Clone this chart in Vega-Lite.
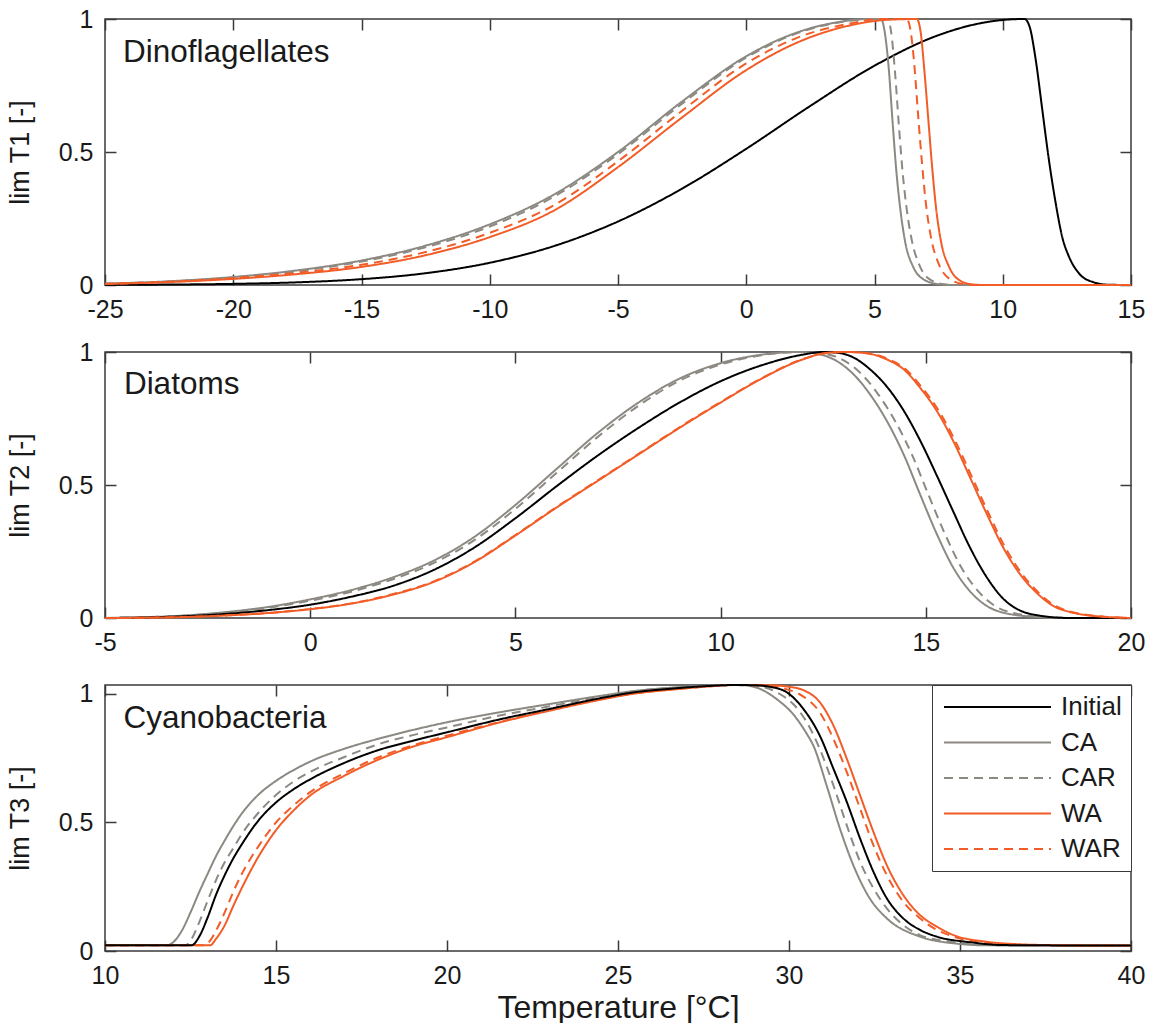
{
"$schema": "https://vega.github.io/schema/vega-lite/v6.json",
"padding": {"left": 5, "top": 6, "right": 5, "bottom": 0},
"background": "white",
"config": {
  "font": "Liberation Sans",
  "view": {"stroke": "#3a3a3a", "strokeWidth": 1.5},
  "axis": {"domain": false, "grid": false, "ticks": true, "tickSize": -11, "tickColor": "#3a3a3a", "tickWidth": 1.5, "labelFontSize": 25, "labelColor": "#1a1a1a", "labelPadding": 23, "labelFlush": false, "labelOverlap": false, "labelExpr": "toString(datum.value)", "titleFontSize": 27, "titleFontWeight": "normal", "titleColor": "#1a1a1a", "titlePadding": 24},
  "legend": {"labelFontSize": 26, "labelColor": "#1a1a1a", "strokeColor": "#3a3a3a", "fillColor": "white", "padding": 9, "rowPadding": 9.5, "symbolStrokeWidth": 2, "cornerRadius": 0}
},
"datasets": {
"p1": [
{"T":-25,"v":0.0006,"s":"Initial"},{"T":-22.5,"v":0.0017,"s":"Initial"},{"T":-20,"v":0.0043,"s":"Initial"},{"T":-17.5,"v":0.0101,"s":"Initial"},{"T":-15,"v":0.0219,"s":"Initial"},{"T":-12.5,"v":0.0443,"s":"Initial"},{"T":-10,"v":0.0835,"s":"Initial"},{"T":-7.5,"v":0.1463,"s":"Initial"},{"T":-5,"v":0.2387,"s":"Initial"},{"T":-2.5,"v":0.3623,"s":"Initial"},{"T":0,"v":0.512,"s":"Initial"},{"T":2.5,"v":0.6734,"s":"Initial"},{"T":5,"v":0.8244,"s":"Initial"},{"T":7.5,"v":0.9394,"s":"Initial"},{"T":9,"v":0.9816,"s":"Initial"},{"T":10,"v":0.9963,"s":"Initial"},{"T":10.85,"v":1.0,"s":"Initial"},{"T":11.05,"v":0.97,"s":"Initial"},{"T":11.28,"v":0.85,"s":"Initial"},{"T":11.54,"v":0.66,"s":"Initial"},{"T":11.8,"v":0.47,"s":"Initial"},{"T":12.06,"v":0.31,"s":"Initial"},{"T":12.32,"v":0.18,"s":"Initial"},{"T":12.58,"v":0.107,"s":"Initial"},{"T":12.97,"v":0.044,"s":"Initial"},{"T":13.49,"v":0.012,"s":"Initial"},{"T":14.14,"v":0.001,"s":"Initial"},{"T":15,"v":0,"s":"Initial"},
{"T":-25,"v":0.005,"s":"CA"},{"T":-22.5,"v":0.014,"s":"CA"},{"T":-20,"v":0.03,"s":"CA"},{"T":-17.5,"v":0.055,"s":"CA"},{"T":-15,"v":0.092,"s":"CA"},{"T":-12.5,"v":0.148,"s":"CA"},{"T":-10,"v":0.228,"s":"CA"},{"T":-7.5,"v":0.34,"s":"CA"},{"T":-5,"v":0.5,"s":"CA"},{"T":-2.5,"v":0.69,"s":"CA"},{"T":0,"v":0.86,"s":"CA"},{"T":2,"v":0.95,"s":"CA"},{"T":3.5,"v":0.987,"s":"CA"},{"T":4.8,"v":1.0,"s":"CA"},{"T":5.25,"v":1.0,"s":"CA"},{"T":5.4,"v":0.95,"s":"CA"},{"T":5.55,"v":0.82,"s":"CA"},{"T":5.7,"v":0.62,"s":"CA"},{"T":5.85,"v":0.43,"s":"CA"},{"T":6.0,"v":0.29,"s":"CA"},{"T":6.2,"v":0.16,"s":"CA"},{"T":6.5,"v":0.07,"s":"CA"},{"T":6.9,"v":0.022,"s":"CA"},{"T":7.5,"v":0.003,"s":"CA"},{"T":8,"v":0,"s":"CA"},{"T":15,"v":0,"s":"CA"},
{"T":-25,"v":0.005,"s":"CAR"},{"T":-22.5,"v":0.013,"s":"CAR"},{"T":-20,"v":0.028,"s":"CAR"},{"T":-17.5,"v":0.052,"s":"CAR"},{"T":-15,"v":0.088,"s":"CAR"},{"T":-12.5,"v":0.142,"s":"CAR"},{"T":-10,"v":0.22,"s":"CAR"},{"T":-7.5,"v":0.332,"s":"CAR"},{"T":-5,"v":0.492,"s":"CAR"},{"T":-2.5,"v":0.682,"s":"CAR"},{"T":0,"v":0.855,"s":"CAR"},{"T":2,"v":0.947,"s":"CAR"},{"T":3.5,"v":0.985,"s":"CAR"},{"T":5,"v":1.0,"s":"CAR"},{"T":5.5,"v":1.0,"s":"CAR"},{"T":5.65,"v":0.95,"s":"CAR"},{"T":5.8,"v":0.8,"s":"CAR"},{"T":5.95,"v":0.6,"s":"CAR"},{"T":6.1,"v":0.42,"s":"CAR"},{"T":6.25,"v":0.29,"s":"CAR"},{"T":6.45,"v":0.17,"s":"CAR"},{"T":6.75,"v":0.075,"s":"CAR"},{"T":7.1,"v":0.025,"s":"CAR"},{"T":7.7,"v":0.003,"s":"CAR"},{"T":8.2,"v":0,"s":"CAR"},{"T":15,"v":0,"s":"CAR"},
{"T":-25,"v":0.004,"s":"WAR"},{"T":-22.5,"v":0.012,"s":"WAR"},{"T":-20,"v":0.026,"s":"WAR"},{"T":-17.5,"v":0.046,"s":"WAR"},{"T":-15,"v":0.076,"s":"WAR"},{"T":-12.5,"v":0.124,"s":"WAR"},{"T":-10,"v":0.196,"s":"WAR"},{"T":-7.5,"v":0.3,"s":"WAR"},{"T":-5,"v":0.465,"s":"WAR"},{"T":-2.5,"v":0.655,"s":"WAR"},{"T":0,"v":0.833,"s":"WAR"},{"T":2,"v":0.93,"s":"WAR"},{"T":4,"v":0.982,"s":"WAR"},{"T":5.3,"v":1.0,"s":"WAR"},{"T":6.25,"v":1.0,"s":"WAR"},{"T":6.4,"v":0.96,"s":"WAR"},{"T":6.55,"v":0.83,"s":"WAR"},{"T":6.7,"v":0.64,"s":"WAR"},{"T":6.85,"v":0.46,"s":"WAR"},{"T":7.0,"v":0.31,"s":"WAR"},{"T":7.2,"v":0.18,"s":"WAR"},{"T":7.5,"v":0.08,"s":"WAR"},{"T":7.9,"v":0.025,"s":"WAR"},{"T":8.5,"v":0.003,"s":"WAR"},{"T":9,"v":0,"s":"WAR"},{"T":15,"v":0,"s":"WAR"},
{"T":-25,"v":0.004,"s":"WA"},{"T":-22.5,"v":0.011,"s":"WA"},{"T":-20,"v":0.023,"s":"WA"},{"T":-17.5,"v":0.041,"s":"WA"},{"T":-15,"v":0.068,"s":"WA"},{"T":-12.5,"v":0.112,"s":"WA"},{"T":-10,"v":0.18,"s":"WA"},{"T":-7.5,"v":0.28,"s":"WA"},{"T":-5,"v":0.443,"s":"WA"},{"T":-2.5,"v":0.63,"s":"WA"},{"T":0,"v":0.808,"s":"WA"},{"T":2,"v":0.912,"s":"WA"},{"T":4,"v":0.975,"s":"WA"},{"T":5.5,"v":0.997,"s":"WA"},{"T":6.65,"v":1.0,"s":"WA"},{"T":6.8,"v":0.95,"s":"WA"},{"T":6.95,"v":0.8,"s":"WA"},{"T":7.1,"v":0.62,"s":"WA"},{"T":7.25,"v":0.44,"s":"WA"},{"T":7.4,"v":0.29,"s":"WA"},{"T":7.6,"v":0.16,"s":"WA"},{"T":7.9,"v":0.07,"s":"WA"},{"T":8.25,"v":0.022,"s":"WA"},{"T":8.75,"v":0.003,"s":"WA"},{"T":9.3,"v":0,"s":"WA"},{"T":15,"v":0,"s":"WA"}
],
"p2": [
{"T":-5,"v":0,"s":"CA"},{"T":-4,"v":0.003,"s":"CA"},{"T":-3,"v":0.01,"s":"CA"},{"T":-2,"v":0.023,"s":"CA"},{"T":-1,"v":0.042,"s":"CA"},{"T":0,"v":0.07,"s":"CA"},{"T":1,"v":0.105,"s":"CA"},{"T":2,"v":0.152,"s":"CA"},{"T":3,"v":0.215,"s":"CA"},{"T":4,"v":0.305,"s":"CA"},{"T":5,"v":0.425,"s":"CA"},{"T":6,"v":0.56,"s":"CA"},{"T":7,"v":0.695,"s":"CA"},{"T":8,"v":0.81,"s":"CA"},{"T":9,"v":0.9,"s":"CA"},{"T":10,"v":0.958,"s":"CA"},{"T":11,"v":0.99,"s":"CA"},{"T":11.9,"v":1.0,"s":"CA"},{"T":12.42,"v":0.991,"s":"CA"},{"T":12.83,"v":0.966,"s":"CA"},{"T":13.24,"v":0.916,"s":"CA"},{"T":13.64,"v":0.841,"s":"CA"},{"T":14.05,"v":0.741,"s":"CA"},{"T":14.46,"v":0.615,"s":"CA"},{"T":14.86,"v":0.465,"s":"CA"},{"T":15.27,"v":0.315,"s":"CA"},{"T":15.67,"v":0.189,"s":"CA"},{"T":16.08,"v":0.1,"s":"CA"},{"T":16.49,"v":0.045,"s":"CA"},{"T":16.89,"v":0.02,"s":"CA"},{"T":17.7,"v":0.004,"s":"CA"},{"T":18.5,"v":0,"s":"CA"},{"T":20,"v":0,"s":"CA"},
{"T":-5,"v":0,"s":"CAR"},{"T":-4,"v":0.003,"s":"CAR"},{"T":-3,"v":0.009,"s":"CAR"},{"T":-2,"v":0.021,"s":"CAR"},{"T":-1,"v":0.039,"s":"CAR"},{"T":0,"v":0.065,"s":"CAR"},{"T":1,"v":0.099,"s":"CAR"},{"T":2,"v":0.145,"s":"CAR"},{"T":3,"v":0.206,"s":"CAR"},{"T":4,"v":0.293,"s":"CAR"},{"T":5,"v":0.41,"s":"CAR"},{"T":6,"v":0.545,"s":"CAR"},{"T":7,"v":0.68,"s":"CAR"},{"T":8,"v":0.798,"s":"CAR"},{"T":9,"v":0.892,"s":"CAR"},{"T":10,"v":0.953,"s":"CAR"},{"T":11,"v":0.988,"s":"CAR"},{"T":12.0,"v":1.0,"s":"CAR"},{"T":12.62,"v":0.991,"s":"CAR"},{"T":13.03,"v":0.966,"s":"CAR"},{"T":13.44,"v":0.916,"s":"CAR"},{"T":13.84,"v":0.841,"s":"CAR"},{"T":14.25,"v":0.741,"s":"CAR"},{"T":14.66,"v":0.615,"s":"CAR"},{"T":15.06,"v":0.465,"s":"CAR"},{"T":15.47,"v":0.315,"s":"CAR"},{"T":15.87,"v":0.189,"s":"CAR"},{"T":16.28,"v":0.1,"s":"CAR"},{"T":16.69,"v":0.045,"s":"CAR"},{"T":17.09,"v":0.02,"s":"CAR"},{"T":17.9,"v":0.004,"s":"CAR"},{"T":18.7,"v":0,"s":"CAR"},{"T":20,"v":0,"s":"CAR"},
{"T":-5,"v":0,"s":"Initial"},{"T":-4,"v":0.002,"s":"Initial"},{"T":-3,"v":0.007,"s":"Initial"},{"T":-2,"v":0.016,"s":"Initial"},{"T":-1,"v":0.03,"s":"Initial"},{"T":0,"v":0.05,"s":"Initial"},{"T":1,"v":0.08,"s":"Initial"},{"T":2,"v":0.12,"s":"Initial"},{"T":3,"v":0.18,"s":"Initial"},{"T":4,"v":0.265,"s":"Initial"},{"T":5,"v":0.375,"s":"Initial"},{"T":6,"v":0.495,"s":"Initial"},{"T":7,"v":0.61,"s":"Initial"},{"T":8,"v":0.715,"s":"Initial"},{"T":9,"v":0.81,"s":"Initial"},{"T":10,"v":0.89,"s":"Initial"},{"T":11,"v":0.95,"s":"Initial"},{"T":12,"v":0.99,"s":"Initial"},{"T":12.5,"v":1.0,"s":"Initial"},{"T":12.9,"v":0.996,"s":"Initial"},{"T":13.24,"v":0.979,"s":"Initial"},{"T":13.64,"v":0.935,"s":"Initial"},{"T":14.05,"v":0.87,"s":"Initial"},{"T":14.46,"v":0.78,"s":"Initial"},{"T":14.86,"v":0.668,"s":"Initial"},{"T":15.27,"v":0.535,"s":"Initial"},{"T":15.67,"v":0.4,"s":"Initial"},{"T":16.08,"v":0.264,"s":"Initial"},{"T":16.49,"v":0.152,"s":"Initial"},{"T":16.89,"v":0.072,"s":"Initial"},{"T":17.3,"v":0.028,"s":"Initial"},{"T":17.7,"v":0.011,"s":"Initial"},{"T":18.5,"v":0,"s":"Initial"},{"T":20,"v":0,"s":"Initial"},
{"T":-5,"v":0,"s":"WA"},{"T":-4,"v":0.001,"s":"WA"},{"T":-3,"v":0.004,"s":"WA"},{"T":-2,"v":0.01,"s":"WA"},{"T":-1,"v":0.019,"s":"WA"},{"T":0,"v":0.033,"s":"WA"},{"T":1,"v":0.054,"s":"WA"},{"T":2,"v":0.087,"s":"WA"},{"T":3,"v":0.135,"s":"WA"},{"T":4,"v":0.21,"s":"WA"},{"T":5,"v":0.31,"s":"WA"},{"T":6,"v":0.415,"s":"WA"},{"T":7,"v":0.515,"s":"WA"},{"T":8,"v":0.615,"s":"WA"},{"T":9,"v":0.715,"s":"WA"},{"T":10,"v":0.81,"s":"WA"},{"T":11,"v":0.9,"s":"WA"},{"T":12,"v":0.972,"s":"WA"},{"T":12.6,"v":0.997,"s":"WA"},{"T":13.1,"v":1.0,"s":"WA"},{"T":13.64,"v":0.993,"s":"WA"},{"T":14.05,"v":0.972,"s":"WA"},{"T":14.46,"v":0.935,"s":"WA"},{"T":14.86,"v":0.866,"s":"WA"},{"T":15.27,"v":0.778,"s":"WA"},{"T":15.67,"v":0.665,"s":"WA"},{"T":16.08,"v":0.528,"s":"WA"},{"T":16.49,"v":0.39,"s":"WA"},{"T":16.89,"v":0.264,"s":"WA"},{"T":17.3,"v":0.164,"s":"WA"},{"T":17.7,"v":0.095,"s":"WA"},{"T":18.11,"v":0.045,"s":"WA"},{"T":18.5,"v":0.023,"s":"WA"},{"T":18.9,"v":0.011,"s":"WA"},{"T":19.3,"v":0.005,"s":"WA"},{"T":20,"v":0,"s":"WA"},
{"T":-5,"v":0,"s":"WAR"},{"T":-4,"v":0.001,"s":"WAR"},{"T":-3,"v":0.004,"s":"WAR"},{"T":-2,"v":0.01,"s":"WAR"},{"T":-1,"v":0.019,"s":"WAR"},{"T":0,"v":0.034,"s":"WAR"},{"T":1,"v":0.055,"s":"WAR"},{"T":2,"v":0.089,"s":"WAR"},{"T":3,"v":0.137,"s":"WAR"},{"T":4,"v":0.212,"s":"WAR"},{"T":5,"v":0.312,"s":"WAR"},{"T":6,"v":0.417,"s":"WAR"},{"T":7,"v":0.517,"s":"WAR"},{"T":8,"v":0.617,"s":"WAR"},{"T":9,"v":0.717,"s":"WAR"},{"T":10,"v":0.812,"s":"WAR"},{"T":11,"v":0.901,"s":"WAR"},{"T":12,"v":0.973,"s":"WAR"},{"T":12.65,"v":0.997,"s":"WAR"},{"T":13.15,"v":1.0,"s":"WAR"},{"T":13.69,"v":0.993,"s":"WAR"},{"T":14.1,"v":0.972,"s":"WAR"},{"T":14.51,"v":0.935,"s":"WAR"},{"T":14.91,"v":0.866,"s":"WAR"},{"T":15.32,"v":0.778,"s":"WAR"},{"T":15.72,"v":0.665,"s":"WAR"},{"T":16.13,"v":0.528,"s":"WAR"},{"T":16.54,"v":0.39,"s":"WAR"},{"T":16.94,"v":0.264,"s":"WAR"},{"T":17.35,"v":0.164,"s":"WAR"},{"T":17.75,"v":0.095,"s":"WAR"},{"T":18.16,"v":0.045,"s":"WAR"},{"T":18.55,"v":0.023,"s":"WAR"},{"T":18.95,"v":0.011,"s":"WAR"},{"T":19.35,"v":0.005,"s":"WAR"},{"T":20,"v":0,"s":"WAR"}
],
"p3": [
{"T":10,"v":0.022,"s":"CA"},{"T":11.8,"v":0.022,"s":"CA"},{"T":12.0,"v":0.035,"s":"CA"},{"T":12.25,"v":0.08,"s":"CA"},{"T":12.5,"v":0.15,"s":"CA"},{"T":12.75,"v":0.228,"s":"CA"},{"T":13.0,"v":0.3,"s":"CA"},{"T":13.25,"v":0.37,"s":"CA"},{"T":13.5,"v":0.43,"s":"CA"},{"T":14.0,"v":0.535,"s":"CA"},{"T":14.5,"v":0.61,"s":"CA"},{"T":15.0,"v":0.662,"s":"CA"},{"T":15.5,"v":0.703,"s":"CA"},{"T":16.0,"v":0.737,"s":"CA"},{"T":17.0,"v":0.787,"s":"CA"},{"T":18.0,"v":0.826,"s":"CA"},{"T":19.0,"v":0.86,"s":"CA"},{"T":20.0,"v":0.89,"s":"CA"},{"T":21.5,"v":0.928,"s":"CA"},{"T":23.0,"v":0.961,"s":"CA"},{"T":24.5,"v":0.993,"s":"CA"},{"T":25.5,"v":1.012,"s":"CA"},{"T":26.5,"v":1.024,"s":"CA"},{"T":27.5,"v":1.031,"s":"CA"},{"T":28.4,"v":1.035,"s":"CA"},{"T":28.76,"v":1.033,"s":"CA"},{"T":29.15,"v":1.02,"s":"CA"},{"T":29.64,"v":0.98,"s":"CA"},{"T":30.13,"v":0.92,"s":"CA"},{"T":30.52,"v":0.845,"s":"CA"},{"T":30.71,"v":0.8,"s":"CA"},{"T":31.1,"v":0.644,"s":"CA"},{"T":31.49,"v":0.476,"s":"CA"},{"T":31.88,"v":0.334,"s":"CA"},{"T":32.36,"v":0.205,"s":"CA"},{"T":32.86,"v":0.127,"s":"CA"},{"T":33.83,"v":0.056,"s":"CA"},{"T":34.81,"v":0.03,"s":"CA"},{"T":35.8,"v":0.022,"s":"CA"},{"T":40,"v":0.021,"s":"CA"},
{"T":10,"v":0.022,"s":"CAR"},{"T":12.34,"v":0.022,"s":"CAR"},{"T":12.5,"v":0.04,"s":"CAR"},{"T":12.75,"v":0.11,"s":"CAR"},{"T":13.0,"v":0.195,"s":"CAR"},{"T":13.25,"v":0.277,"s":"CAR"},{"T":13.5,"v":0.345,"s":"CAR"},{"T":13.75,"v":0.4,"s":"CAR"},{"T":14.0,"v":0.455,"s":"CAR"},{"T":14.5,"v":0.54,"s":"CAR"},{"T":15.0,"v":0.607,"s":"CAR"},{"T":15.5,"v":0.658,"s":"CAR"},{"T":16.0,"v":0.697,"s":"CAR"},{"T":17.0,"v":0.755,"s":"CAR"},{"T":18.0,"v":0.805,"s":"CAR"},{"T":19.0,"v":0.84,"s":"CAR"},{"T":20.0,"v":0.87,"s":"CAR"},{"T":21.5,"v":0.915,"s":"CAR"},{"T":23.0,"v":0.952,"s":"CAR"},{"T":24.5,"v":0.99,"s":"CAR"},{"T":25.5,"v":1.011,"s":"CAR"},{"T":26.5,"v":1.023,"s":"CAR"},{"T":27.5,"v":1.03,"s":"CAR"},{"T":28.4,"v":1.035,"s":"CAR"},{"T":28.9,"v":1.033,"s":"CAR"},{"T":29.3,"v":1.025,"s":"CAR"},{"T":29.73,"v":1.0,"s":"CAR"},{"T":30.13,"v":0.96,"s":"CAR"},{"T":30.52,"v":0.89,"s":"CAR"},{"T":30.9,"v":0.786,"s":"CAR"},{"T":31.3,"v":0.644,"s":"CAR"},{"T":31.69,"v":0.489,"s":"CAR"},{"T":32.08,"v":0.347,"s":"CAR"},{"T":32.47,"v":0.244,"s":"CAR"},{"T":32.86,"v":0.166,"s":"CAR"},{"T":33.34,"v":0.101,"s":"CAR"},{"T":33.83,"v":0.062,"s":"CAR"},{"T":34.81,"v":0.034,"s":"CAR"},{"T":35.8,"v":0.024,"s":"CAR"},{"T":40,"v":0.021,"s":"CAR"},
{"T":10,"v":0.022,"s":"WAR"},{"T":12.92,"v":0.022,"s":"WAR"},{"T":13.1,"v":0.045,"s":"WAR"},{"T":13.25,"v":0.08,"s":"WAR"},{"T":13.5,"v":0.15,"s":"WAR"},{"T":13.75,"v":0.23,"s":"WAR"},{"T":14.0,"v":0.3,"s":"WAR"},{"T":14.5,"v":0.41,"s":"WAR"},{"T":15.0,"v":0.5,"s":"WAR"},{"T":15.5,"v":0.565,"s":"WAR"},{"T":16.0,"v":0.618,"s":"WAR"},{"T":17.0,"v":0.692,"s":"WAR"},{"T":18.0,"v":0.754,"s":"WAR"},{"T":19.0,"v":0.8,"s":"WAR"},{"T":20.0,"v":0.838,"s":"WAR"},{"T":21.5,"v":0.89,"s":"WAR"},{"T":23.0,"v":0.94,"s":"WAR"},{"T":24.5,"v":0.98,"s":"WAR"},{"T":25.5,"v":1.003,"s":"WAR"},{"T":26.5,"v":1.017,"s":"WAR"},{"T":27.5,"v":1.028,"s":"WAR"},{"T":28.4,"v":1.035,"s":"WAR"},{"T":29.3,"v":1.033,"s":"WAR"},{"T":29.9,"v":1.02,"s":"WAR"},{"T":30.42,"v":0.99,"s":"WAR"},{"T":30.9,"v":0.929,"s":"WAR"},{"T":31.3,"v":0.825,"s":"WAR"},{"T":31.69,"v":0.696,"s":"WAR"},{"T":32.08,"v":0.554,"s":"WAR"},{"T":32.47,"v":0.411,"s":"WAR"},{"T":32.86,"v":0.295,"s":"WAR"},{"T":33.34,"v":0.192,"s":"WAR"},{"T":33.83,"v":0.127,"s":"WAR"},{"T":34.32,"v":0.082,"s":"WAR"},{"T":34.81,"v":0.056,"s":"WAR"},{"T":35.78,"v":0.03,"s":"WAR"},{"T":36.76,"v":0.023,"s":"WAR"},{"T":40,"v":0.021,"s":"WAR"},
{"T":10,"v":0.022,"s":"WA"},{"T":13.07,"v":0.022,"s":"WA"},{"T":13.25,"v":0.048,"s":"WA"},{"T":13.5,"v":0.1,"s":"WA"},{"T":13.75,"v":0.175,"s":"WA"},{"T":14.0,"v":0.245,"s":"WA"},{"T":14.5,"v":0.37,"s":"WA"},{"T":15.0,"v":0.47,"s":"WA"},{"T":15.5,"v":0.545,"s":"WA"},{"T":16.0,"v":0.605,"s":"WA"},{"T":17.0,"v":0.682,"s":"WA"},{"T":18.0,"v":0.745,"s":"WA"},{"T":19.0,"v":0.795,"s":"WA"},{"T":20.0,"v":0.832,"s":"WA"},{"T":21.5,"v":0.888,"s":"WA"},{"T":23.0,"v":0.935,"s":"WA"},{"T":24.5,"v":0.978,"s":"WA"},{"T":25.5,"v":1.002,"s":"WA"},{"T":26.5,"v":1.016,"s":"WA"},{"T":27.5,"v":1.028,"s":"WA"},{"T":28.4,"v":1.035,"s":"WA"},{"T":29.5,"v":1.034,"s":"WA"},{"T":30.0,"v":1.028,"s":"WA"},{"T":30.42,"v":1.015,"s":"WA"},{"T":30.9,"v":0.968,"s":"WA"},{"T":31.3,"v":0.877,"s":"WA"},{"T":31.69,"v":0.748,"s":"WA"},{"T":32.08,"v":0.605,"s":"WA"},{"T":32.47,"v":0.463,"s":"WA"},{"T":32.86,"v":0.334,"s":"WA"},{"T":33.34,"v":0.218,"s":"WA"},{"T":33.83,"v":0.14,"s":"WA"},{"T":34.32,"v":0.095,"s":"WA"},{"T":34.81,"v":0.062,"s":"WA"},{"T":35.78,"v":0.036,"s":"WA"},{"T":36.76,"v":0.026,"s":"WA"},{"T":37.7,"v":0.023,"s":"WA"},{"T":40,"v":0.021,"s":"WA"},
{"T":10,"v":0.022,"s":"Initial"},{"T":12.53,"v":0.022,"s":"Initial"},{"T":12.75,"v":0.055,"s":"Initial"},{"T":13.0,"v":0.13,"s":"Initial"},{"T":13.25,"v":0.22,"s":"Initial"},{"T":13.5,"v":0.295,"s":"Initial"},{"T":13.75,"v":0.36,"s":"Initial"},{"T":14.0,"v":0.415,"s":"Initial"},{"T":14.5,"v":0.51,"s":"Initial"},{"T":15.0,"v":0.578,"s":"Initial"},{"T":15.5,"v":0.628,"s":"Initial"},{"T":16.0,"v":0.668,"s":"Initial"},{"T":17.0,"v":0.732,"s":"Initial"},{"T":18.0,"v":0.782,"s":"Initial"},{"T":19.0,"v":0.818,"s":"Initial"},{"T":20.0,"v":0.851,"s":"Initial"},{"T":21.5,"v":0.9,"s":"Initial"},{"T":23.0,"v":0.942,"s":"Initial"},{"T":24.5,"v":0.984,"s":"Initial"},{"T":25.5,"v":1.007,"s":"Initial"},{"T":26.5,"v":1.02,"s":"Initial"},{"T":27.5,"v":1.03,"s":"Initial"},{"T":28.4,"v":1.035,"s":"Initial"},{"T":29.0,"v":1.034,"s":"Initial"},{"T":29.44,"v":1.028,"s":"Initial"},{"T":29.93,"v":1.007,"s":"Initial"},{"T":30.42,"v":0.942,"s":"Initial"},{"T":30.9,"v":0.838,"s":"Initial"},{"T":31.3,"v":0.709,"s":"Initial"},{"T":31.69,"v":0.58,"s":"Initial"},{"T":32.08,"v":0.437,"s":"Initial"},{"T":32.47,"v":0.308,"s":"Initial"},{"T":32.86,"v":0.205,"s":"Initial"},{"T":33.34,"v":0.127,"s":"Initial"},{"T":33.83,"v":0.082,"s":"Initial"},{"T":34.32,"v":0.056,"s":"Initial"},{"T":35.3,"v":0.034,"s":"Initial"},{"T":36.27,"v":0.023,"s":"Initial"},{"T":40,"v":0.021,"s":"Initial"}
]
},
"concat": [
{
  "width": 1026, "height": 266,
  "layer": [
    {"data": {"name": "p1"},
     "mark": {"type": "line", "strokeWidth": 2, "interpolate": "monotone"},
     "encoding": {
       "x": {"field": "T", "type": "quantitative", "scale": {"domain": [-25, 15], "nice": false, "zero": false}, "axis": {"orient": "bottom", "values": [-25,-20,-15,-10,-5,0,5,10,15], "title": null}},
       "y": {"field": "v", "type": "quantitative", "scale": {"domain": [0, 1], "nice": false}, "axis": {"orient": "left", "values": [0,0.5,1], "title": "lim T1 [-]"}},
       "color": {"field": "s", "type": "nominal", "scale": {"domain": ["Initial","CA","CAR","WA","WAR"], "range": ["#000000","#8c8982","#8c8982","#f25c26","#f25c26"]}, "legend": null},
       "strokeDash": {"field": "s", "type": "nominal", "scale": {"domain": ["Initial","CA","CAR","WA","WAR"], "range": [[1,0],[1,0],[9,6],[1,0],[9,6]]}, "legend": null}
     }},
    {"data": {"name": "p1"},
     "mark": {"type": "line", "opacity": 0},
     "encoding": {
       "x": {"field": "T", "type": "quantitative", "axis": {"orient": "top", "labels": false, "title": null, "values": [-25,-20,-15,-10,-5,0,5,10,15]}},
       "y": {"field": "v", "type": "quantitative", "axis": {"orient": "right", "labels": false, "title": null, "values": [0,0.5,1]}}
     }},
    {"data": {"values": [{"label": "Dinoflagellates"}]},
     "mark": {"type": "text", "align": "left", "baseline": "alphabetic", "fontSize": 31.5, "color": "#1a1a1a"},
     "encoding": {
       "x": {"datum": -24.3, "type": "quantitative", "axis": null},
       "y": {"datum": 0.838, "type": "quantitative", "axis": null},
       "text": {"field": "label"}
     }}
  ],
  "resolve": {"axis": {"x": "independent", "y": "independent"}}
},
{
  "width": 1026, "height": 266,
  "layer": [
    {"data": {"name": "p2"},
     "mark": {"type": "line", "strokeWidth": 2, "interpolate": "monotone"},
     "encoding": {
       "x": {"field": "T", "type": "quantitative", "scale": {"domain": [-5, 20], "nice": false, "zero": false}, "axis": {"orient": "bottom", "values": [-5,0,5,10,15,20], "title": null}},
       "y": {"field": "v", "type": "quantitative", "scale": {"domain": [0, 1], "nice": false}, "axis": {"orient": "left", "values": [0,0.5,1], "title": "lim T2 [-]"}},
       "color": {"field": "s", "type": "nominal", "scale": {"domain": ["Initial","CA","CAR","WA","WAR"], "range": ["#000000","#8c8982","#8c8982","#f25c26","#f25c26"]}, "legend": null},
       "strokeDash": {"field": "s", "type": "nominal", "scale": {"domain": ["Initial","CA","CAR","WA","WAR"], "range": [[1,0],[1,0],[9,6],[1,0],[9,6]]}, "legend": null}
     }},
    {"data": {"name": "p2"},
     "mark": {"type": "line", "opacity": 0},
     "encoding": {
       "x": {"field": "T", "type": "quantitative", "axis": {"orient": "top", "labels": false, "title": null, "values": [-5,0,5,10,15,20]}},
       "y": {"field": "v", "type": "quantitative", "axis": {"orient": "right", "labels": false, "title": null, "values": [0,0.5,1]}}
     }},
    {"data": {"values": [{"label": "Diatoms"}]},
     "mark": {"type": "text", "align": "left", "baseline": "alphabetic", "fontSize": 31.5, "color": "#1a1a1a"},
     "encoding": {
       "x": {"datum": -4.54, "type": "quantitative", "axis": null},
       "y": {"datum": 0.841, "type": "quantitative", "axis": null},
       "text": {"field": "label"}
     }}
  ],
  "resolve": {"axis": {"x": "independent", "y": "independent"}}
},
{
  "width": 1026, "height": 266,
  "layer": [
    {"data": {"name": "p3"},
     "mark": {"type": "line", "strokeWidth": 2, "interpolate": "monotone"},
     "encoding": {
       "x": {"field": "T", "type": "quantitative", "scale": {"domain": [10, 40], "nice": false, "zero": false}, "axis": {"orient": "bottom", "values": [10,15,20,25,30,35,40], "title": "Temperature [°C]", "titleFontSize": 32, "titlePadding": 4}},
       "y": {"field": "v", "type": "quantitative", "scale": {"domain": [0, 1.035], "nice": false}, "axis": {"orient": "left", "values": [0,0.5,1], "title": "lim T3 [-]"}},
       "color": {"field": "s", "type": "nominal", "scale": {"domain": ["Initial","CA","CAR","WA","WAR"], "range": ["#000000","#8c8982","#8c8982","#f25c26","#f25c26"]}, "legend": {"orient": "top-right", "offset": 0, "title": null, "symbolType": "M-1,0H9.7", "symbolSize": 400, "labelOffset": 94}},
       "strokeDash": {"field": "s", "type": "nominal", "scale": {"domain": ["Initial","CA","CAR","WA","WAR"], "range": [[1,0],[1,0],[9,6],[1,0],[9,6]]}, "legend": {"orient": "top-right", "offset": 0, "title": null, "symbolType": "M-1,0H9.7", "symbolSize": 400, "labelOffset": 94}}
     }},
    {"data": {"name": "p3"},
     "mark": {"type": "line", "opacity": 0},
     "encoding": {
       "x": {"field": "T", "type": "quantitative", "axis": {"orient": "top", "labels": false, "title": null, "values": [10,15,20,25,30,35,40]}},
       "y": {"field": "v", "type": "quantitative", "axis": {"orient": "right", "labels": false, "title": null, "values": [0,0.5,1]}}
     }},
    {"data": {"values": [{"label": "Cyanobacteria"}]},
     "mark": {"type": "text", "align": "left", "baseline": "alphabetic", "fontSize": 31.5, "color": "#1a1a1a"},
     "encoding": {
       "x": {"datum": 10.54, "type": "quantitative", "axis": null},
       "y": {"datum": 0.867, "type": "quantitative", "axis": null},
       "text": {"field": "label"}
     }}
  ],
  "resolve": {"axis": {"x": "independent", "y": "independent"}}
}
],
"columns": 1,
"spacing": 67,
"bounds": "flush",
"resolve": {"scale": {"color": "independent", "strokeDash": "independent"}, "legend": {"color": "independent", "strokeDash": "independent"}}
}
